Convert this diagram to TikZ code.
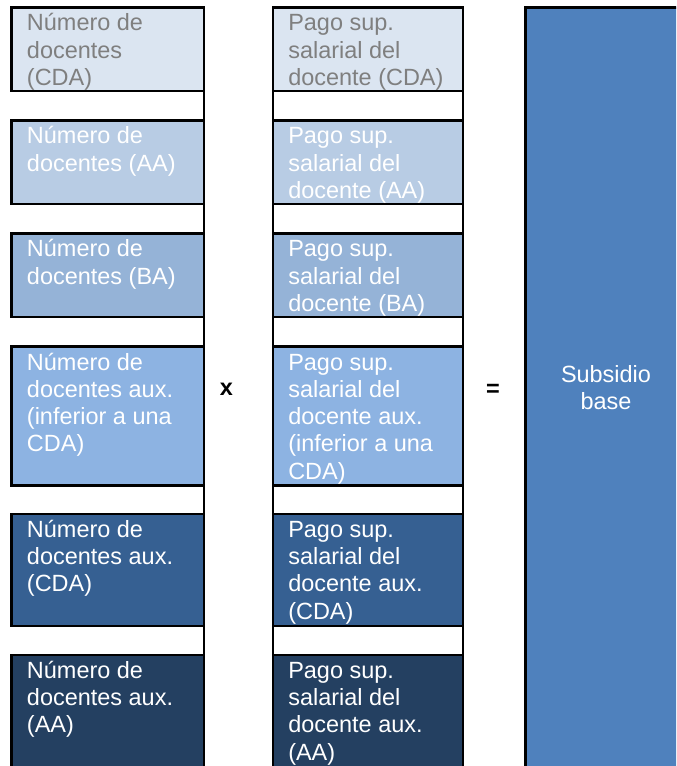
\documentclass[tikz,border=0pt]{standalone}
\usepackage{fontspec}
\setmainfont{Liberation Sans}
\definecolor{boxA}{HTML}{DBE5F1}
\definecolor{boxB}{HTML}{B8CCE4}
\definecolor{boxC}{HTML}{95B3D7}
\definecolor{boxD}{HTML}{8DB3E2}
\definecolor{boxE}{HTML}{366092}
\definecolor{boxF}{HTML}{244061}
\definecolor{sumblue}{HTML}{4F81BD}
\definecolor{txtgray}{HTML}{7F7F7F}
\tikzset{
  cell/.style={draw=black, line width=1.9pt},
  rule/.style={black, line width=1.9pt},
  celltext/.style={anchor=base west, inner sep=0pt, align=left, text=white,
    font=\fontsize{17.6}{20.4}\selectfont},
  sign/.style={inner sep=0pt, font=\fontsize{17.6}{20.4}\selectfont\bfseries}
}

\begin{document}
\begin{tikzpicture}[x=0.75pt, y=-0.75pt]
			%%%%% START %%%%%
			\useasboundingbox (0, 0) rectangle (676, 766);
			\clip (0, 0) rectangle (676, 766);
			
			% result column
			\draw[cell, fill=sumblue] (525.7, 7.4) rectangle (700, 790);
			\node[celltext, anchor=base, align=center] (subsidio) at (606, 409.5) {Subsidio\\base};
			
			% left column
			\draw[cell, fill=boxA] (11.7, 7.5) rectangle (204, 91);
			\draw[cell, fill=boxB] (11.7, 120.5) rectangle (204, 204);
			\draw[cell, fill=boxC] (11.7, 233.5) rectangle (204, 317);
			\draw[cell, fill=boxD] (11.7, 346.7) rectangle (204, 485.7);
			\draw[cell, fill=boxE] (11.7, 514) rectangle (204, 626);
			\draw[cell, fill=boxF] (11.7, 655) rectangle (204, 790);
			\draw[rule] (204, 7.5) -- (204, 790);
			
			% base = last line, so y is the last baseline
			\node[celltext, text=txtgray] (numcda) at (26.7, 85.4) {Número de\\docentes\\(CDA)};
			\node[celltext] (numaa) at (26.7, 171.2) {Número de\\docentes (AA)};
			\node[celltext] (numba) at (26.7, 284.2) {Número de\\docentes (BA)};
			\node[celltext] (numinf) at (26.7, 451.8) {Número de\\docentes aux.\\(inferior a una\\CDA)};
			\node[celltext] (numauxcda) at (26.7, 591.9) {Número de\\docentes aux.\\(CDA)};
			\node[celltext] (numauxaa) at (26.7, 732.9) {Número de\\docentes aux.\\(AA)};
			
			% middle column
			\draw[cell, fill=boxA] (273, 7.5) rectangle (463, 91);
			\draw[cell, fill=boxB] (273, 120.5) rectangle (463, 204);
			\draw[cell, fill=boxC] (273, 233.5) rectangle (463, 317);
			\draw[cell, fill=boxD] (273, 346.7) rectangle (463, 485.7);
			\draw[cell, fill=boxE] (273, 514) rectangle (463, 626);
			\draw[cell, fill=boxF] (273, 655) rectangle (463, 790);
			\draw[rule] (273, 7.5) -- (273, 790);
			\draw[rule] (463, 7.5) -- (463, 790);
			
			\node[celltext, text=txtgray] (pagocda) at (288, 85.4) {Pago sup.\\salarial del\\docente (CDA)};
			\node[celltext] (pagoaa) at (288, 198.4) {Pago sup.\\salarial del\\docente (AA)};
			\node[celltext] (pagoba) at (288, 311.4) {Pago sup.\\salarial del\\docente (BA)};
			\node[celltext] (pagoinf) at (288, 479) {Pago sup.\\salarial del\\docente aux.\\(inferior a una\\CDA)};
			\node[celltext] (pagoauxcda) at (288, 619.1) {Pago sup.\\salarial del\\docente aux.\\(CDA)};
			\node[celltext] (pagoauxaa) at (288, 760.1) {Pago sup.\\salarial del\\docente aux.\\(AA)};
			
			% operators
			\node[sign] (times) at (226.5, 389) {x};
			\node[sign] (equals) at (493, 390) {=};
			%%%%% END %%%%%
\end{tikzpicture}
\end{document}
